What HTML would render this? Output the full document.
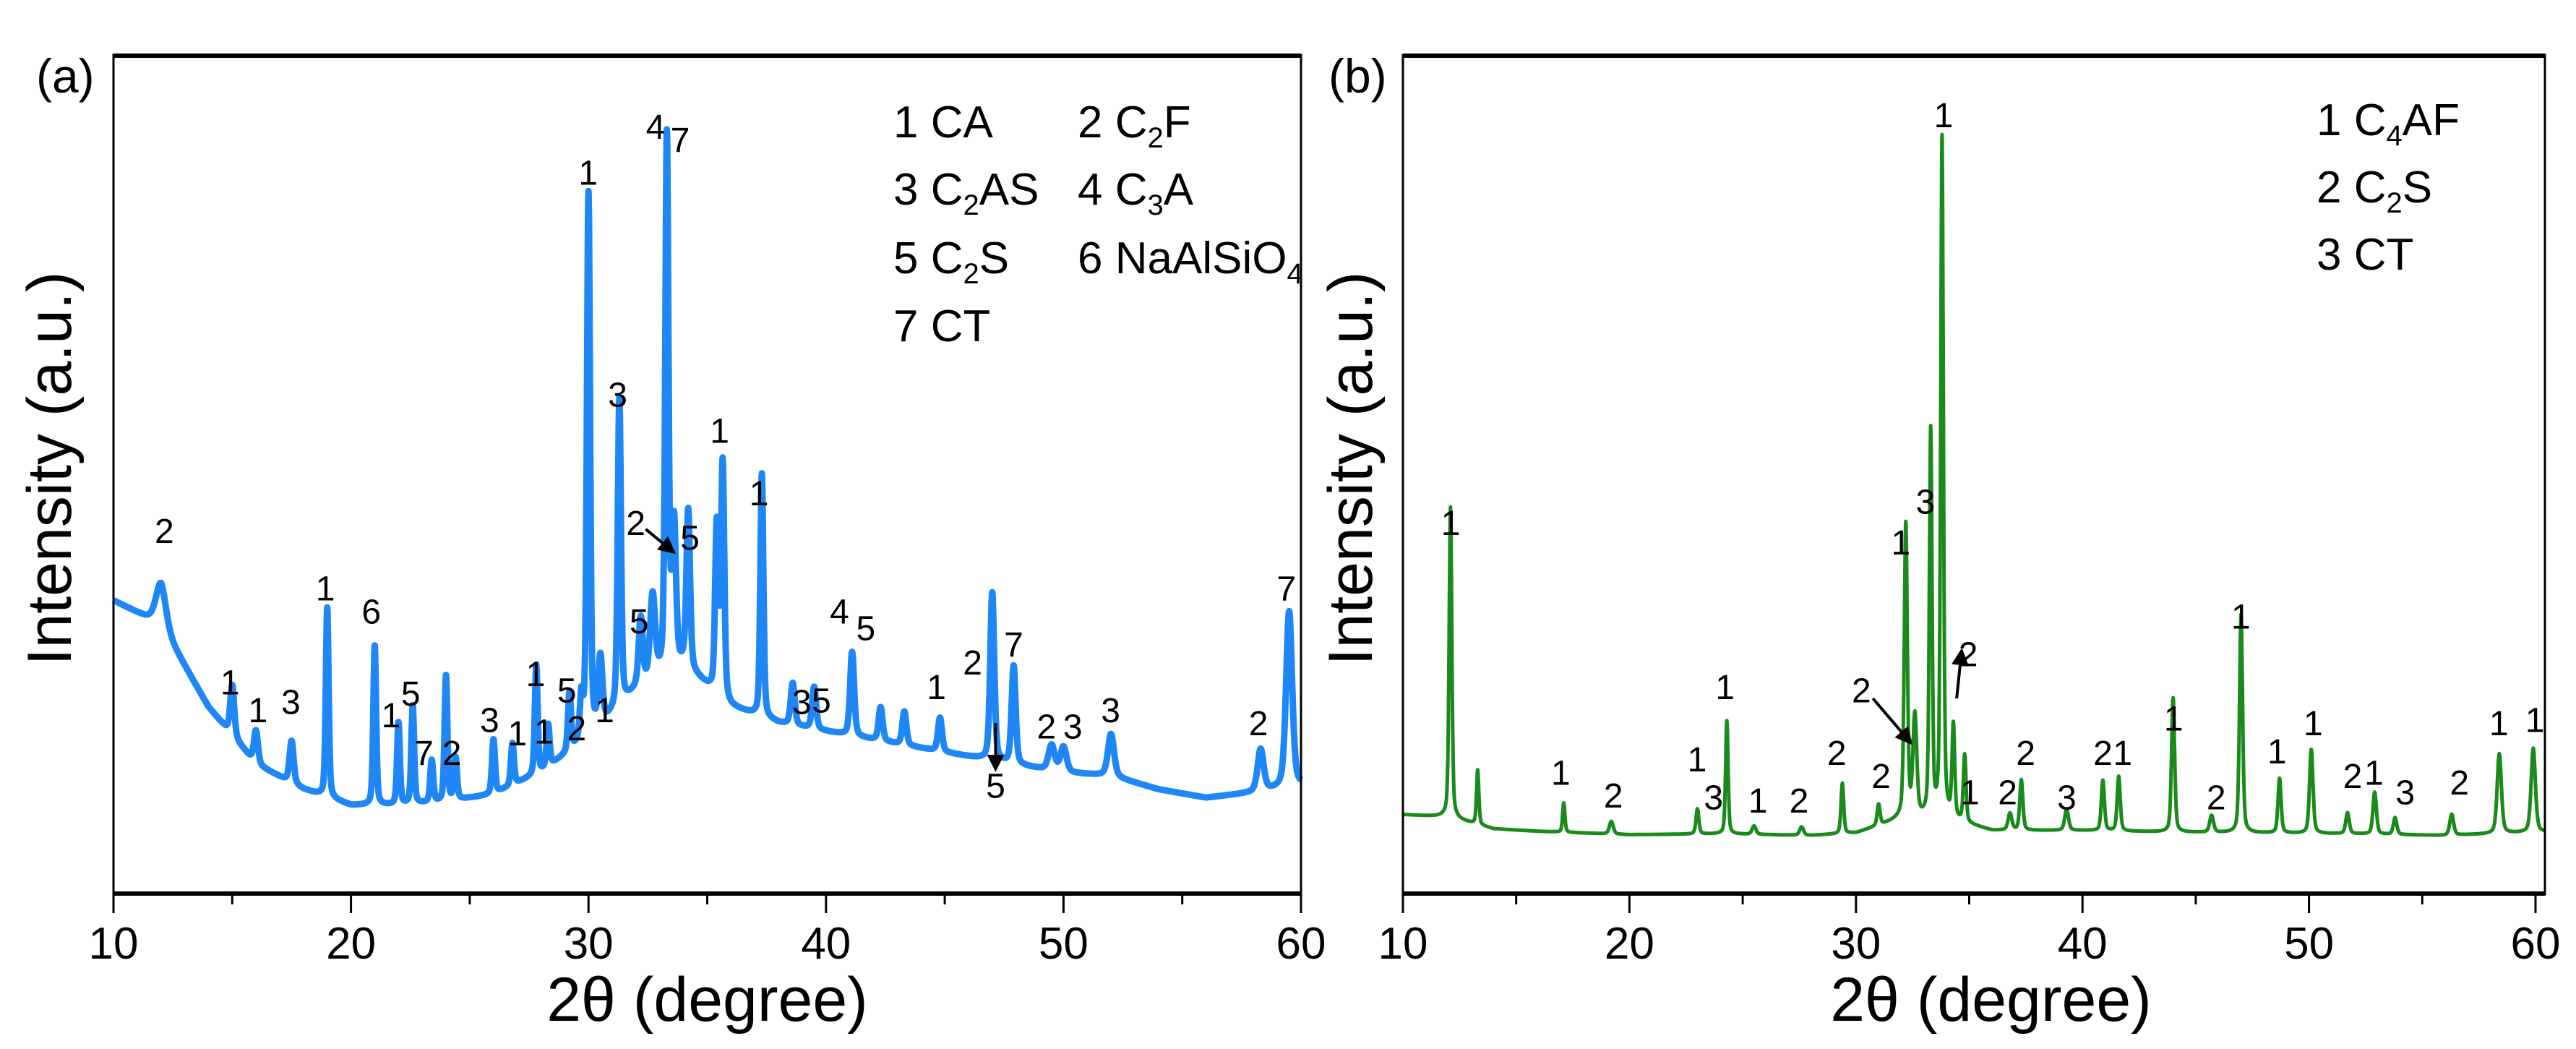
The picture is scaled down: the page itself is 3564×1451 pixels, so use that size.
<!DOCTYPE html>
<html><head><meta charset="utf-8"><style>
html,body{margin:0;padding:0;background:#fff;}
svg{display:block;font-family:"Liberation Sans",Arial,sans-serif;}
</style></head><body>
<svg id="fig" width="3564" height="1451" viewBox="0 0 3564 1451" xmlns="http://www.w3.org/2000/svg"></svg>
<script>
// ---------- data ----------
const xTicks = [10,20,30,40,50,60];
const xTickLabels = ["10","20","30","40","50","60"];
// panel a background (deg, intensity)
const bgA_x = [10,12,14,16,18,20,22,24,26,28,30,32,34,36,38,40,42,44,46,48,50,52,54,56,58,60];
const bgA_y = [35,32.1,22.3,15.5,12.5,10.6,10.6,11,11.9,14.5,18.4,24.3,27.2,22.3,20.4,19.4,18.4,17.4,16.4,15.4,14.5,14.1,12.5,11.5,12.1,12.9];
const pkA_pos = [12.0,15.0,16.0,17.5,19.0,21.0,22.0,22.6,23.4,24.0,24.4,26.0,26.8,27.8,28.3,29.2,29.7,30.0,30.5,31.3,32.2,32.7,33.3,33.6,34.2,35.4,35.65,37.3,38.6,39.5,41.1,42.3,43.3,44.8,47.0,47.9,49.5,50.0,52.0,58.3,59.5];
const pkA_h   = [5,6,4,5,22.6,19,9.8,11.7,5,15,5,6.5,5,13,5,7,5,65,8,36.7,8,10,63.9,17,18.8,20,28,29,5,5,10,4,4,4,20,11.7,3,3,5,5,21];
const pkA_w   = [0.5,0.2,0.2,0.2,0.14,0.14,0.14,0.14,0.15,0.14,0.15,0.15,0.15,0.14,0.15,0.15,0.15,0.16,0.2,0.16,0.2,0.25,0.16,0.2,0.18,0.16,0.16,0.15,0.2,0.2,0.2,0.2,0.2,0.2,0.2,0.2,0.3,0.3,0.3,0.3,0.3];
// panel b
const bgB_x = [10,12,14,16,20,24,28,30,32,34,36,40,44,48,52,56,60];
const bgB_y = [9.5,9.2,7.8,7.5,7.1,7.2,7.0,7.3,9,9,7.6,7.6,7.4,7.3,7.2,7.0,7.4];
const pkB_pos = [12.1,13.3,17.1,19.2,23.0,24.3,25.5,27.6,29.4,31.0,32.2,32.6,33.3,33.8,34.3,34.8,36.8,37.3,39.3,40.9,41.6,44.0,45.7,47.0,48.7,50.1,51.7,52.9,53.8,56.3,58.4,59.9];
const pkB_h   = [37,6.5,3.5,1.5,3,13.5,1,1,6,2.5,35,12,46,81,11,8,2,6,2.5,6,6.5,16,2,26,6.5,10,2.5,5,2,2.5,9.5,10];
const pkB_w   = [0.14,0.12,0.12,0.2,0.15,0.13,0.2,0.2,0.14,0.15,0.16,0.2,0.14,0.14,0.14,0.14,0.2,0.16,0.2,0.16,0.16,0.16,0.2,0.16,0.16,0.18,0.18,0.18,0.18,0.2,0.22,0.22];
// ---------- layout ----------
const NS="http://www.w3.org/2000/svg";
const svg=document.getElementById('fig');
function mk(tag,attrs,parent){const e=document.createElementNS(NS,tag);for(const k in attrs)e.setAttribute(k,attrs[k]);(parent||svg).appendChild(e);return e;}
const panels=[
 {id:'a',x0:157,x1:1800,fx1:1800,top:76,bot:1237,bgx:bgA_x,bgy:bgA_y,pp:pkA_pos,ph:pkA_h,pw:pkA_w,color:'#1f87f5',sw:9,ytx:68},
 {id:'b',x0:1941,x1:3508,fx1:3521,top:76,bot:1237,bgx:bgB_x,bgy:bgB_y,pp:pkB_pos,ph:pkB_h,pw:pkB_w,color:'#1a8a1a',sw:5,ytx:1868}
];
function interp(xs,ys,x){for(let i=0;i<xs.length-1;i++){if(x<=xs[i+1]){const t=(x-xs[i])/(xs[i+1]-xs[i]);return ys[i]+t*(ys[i+1]-ys[i]);}}return ys[ys.length-1];}
panels.forEach(p=>{
 const g=mk('g',{});
 
 
 const X=d=>p.x0+(d-10)/50*(p.x1-p.x0);
 const Y=v=>p.bot-v/100*(p.bot-p.top);
 let pts=[];const xmax=p.id==='a'?60:60.4;
 for(let d=10;d<=xmax+1e-9;d+=0.01){
  let v=interp(p.bgx,p.bgy,d);
  for(let i=0;i<p.pp.length;i++){const w=p.pw[i];const z=(d-p.pp[i])/(w/2);
   v+=p.ph[i]*(0.6*Math.exp(-0.693*z*z)+0.4/(1+z*z));}
  pts.push(X(d).toFixed(1)+','+Y(v).toFixed(1));
 }
 const line=mk('polyline',{points:pts.join(' '),fill:'none',stroke:p.color,'stroke-width':p.sw,'stroke-linejoin':'round'},g);
 
 
 const fr=mk('rect',{x:p.x0,y:p.top,width:p.fx1-p.x0,height:p.bot-p.top,fill:'none',stroke:'#000','stroke-width':3},g);
 
 
 mk('line',{x1:p.x0,x2:p.fx1,y1:p.top+1,y2:p.top+1,stroke:'#000','stroke-width':6},g);
 mk('line',{x1:p.x0,x2:p.fx1,y1:p.bot-1,y2:p.bot-1,stroke:'#000','stroke-width':6},g);
 for(let d=10;d<=60;d+=5){const major=d%10===0;
  const t=mk('line',{x1:X(d),x2:X(d),y1:p.bot,y2:p.bot+(major?26:14),stroke:'#000','stroke-width':3},g);
  
  }
 xTicks.forEach((d,i)=>{const t=mk('text',{x:X(d),y:1326,'font-size':62,'text-anchor':'middle'},g);t.textContent=xTickLabels[i];
  
  });
 const xt=mk('text',{x:(p.x0+p.x1)/2+(p.id==='a'?0:30),y:1412,'font-size':86,'text-anchor':'middle'},g);xt.textContent='2θ (degree)';
 
 
 const yt=mk('text',{x:0,y:0,'font-size':86,'text-anchor':'middle',transform:`translate(${p.ytx+30},648) rotate(-90)`},g);yt.textContent='Intensity (a.u.)';
 
 
 const pl=mk('text',{x:p.id==='a'?50:1838,y:128,'font-size':66},g);pl.textContent='('+p.id+')';
 
 
});
const S=2.273;
const labA=[["2",100,323],["1",140,415],["1",157,432],["3",177,427],["1",198,358],["6",226,372],["1",238,435],["5",250,422],["7",258,458],["2",275,458],["3",298,438],["1",315,446],["1",326,410],["1",331,445],["5",345,420],["2",351,443],["1",368,432],["1",358,105],["3",376,240],["4",399,77],["7",414,85],["2",387,318],["5",420,327],["1",438,262],["1",462,300],["5",389,378],["3",488,427],["5",500,426],["4",511,372],["5",527,382],["1",570,418],["2",592,403],["7",617,392],["5",606,478],["2",637,442],["3",653,442],["3",676,432],["2",766,440],["7",783,358]];
const labB=[["1",883,318],["1",950,470],["2",982,484],["1",1033,462],["3",1043,485],["1",1050,418],["1",1070,487],["2",1095,487],["2",1118,458],["2",1145,472],["1",1157,330],["3",1172,305],["1",1183,70],["2",1133,420],["2",1198,398],["1",1199,482],["2",1222,482],["2",1233,458],["3",1258,485],["2",1280,458],["1",1292,458],["1",1323,437],["2",1349,485],["1",1364,375],["1",1386,457],["1",1408,440],["2",1432,472],["1",1445,470],["3",1464,482],["2",1497,476],["1",1521,440],["1",1543,438]];
labA.concat(labB).forEach(l=>{const t=mk('text',{x:l[1]*S,y:l[2]*S+17,'font-size':48,'text-anchor':'middle'});t.textContent=l[0];
 
 });
const defs=mk('defs',{});const m=mk('marker',{id:'ah',markerWidth:6,markerHeight:6,refX:5,refY:3,orient:'auto'},defs);mk('path',{d:'M0,0 L6,3 L0,6 Z',fill:'#000'},m);
[[393,322,410,336],[606,440,606,468],[1140,425,1163,452],[1191,425,1194,396]].forEach(a=>{
 const ar=mk('line',{x1:a[0]*S,y1:a[1]*S,x2:a[2]*S,y2:a[3]*S,stroke:'#000','stroke-width':4,'marker-end':'url(#ah)'});
 
 });
function legend(x,y,num,base,sub,tail,name){const t=mk('text',{x:x,y:y,'font-size':62});
 
 
 t.innerHTML=num+' '+base+(sub?'<tspan font-size="40" dy="14">'+sub+'</tspan><tspan dy="-14">'+tail+'</tspan>':tail);}
legend(1236,190,'1','CA','','','legend-entry-ca');
legend(1491,190,'2','C','2','F','legend-entry-c2f');
legend(1236,283,'3','C','2','AS','legend-entry-c2as');
legend(1491,283,'4','C','3','A','legend-entry-c3a');
legend(1236,378,'5','C','2','S','legend-entry-c2s');
legend(1491,378,'6','NaAlSiO','4','','legend-entry-naalsio4');
legend(1236,472,'7','CT','','','legend-entry-ct');
legend(3205,187,'1','C','4','AF','legend-entry-c4af');
legend(3205,280,'2','C','2','S','legend-entry-c2s-b');
legend(3205,373,'3','CT','','','legend-entry-ct-b');
</script>
</body></html>
